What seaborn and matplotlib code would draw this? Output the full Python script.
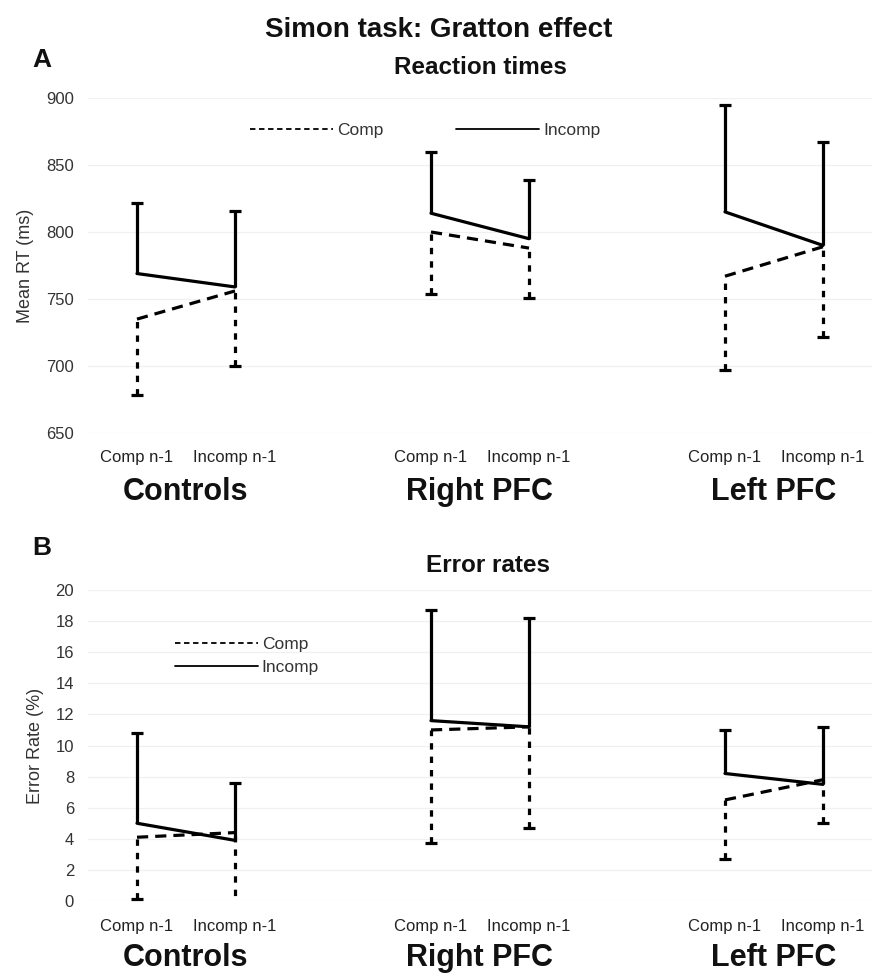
import numpy as np
import pandas as pd
import matplotlib
matplotlib.use("Agg")
import matplotlib.pyplot as plt
from matplotlib.lines import Line2D
from matplotlib import transforms
import seaborn as sns

# ---------------- data ----------------
groups = ["Controls", "Right PFC", "Left PFC"]
prev_trial = ["Comp n-1", "Incomp n-1"]
conditions = ["Comp", "Incomp"]

# Reaction times (ms): [Comp n-1, Incomp n-1] per group
rt_comp = [[735, 756], [800, 788], [767, 789]]
rt_incomp = [[769, 759], [814, 795], [815, 790]]
rt_comp_lower = [[678, 700], [754, 751], [697, 722]]     # end of downward error bar
rt_incomp_upper = [[822, 816], [860, 839], [895, 867]]   # end of upward error bar

# Error rates (%)
er_comp = [[4.1, 4.4], [11.0, 11.2], [6.5, 7.8]]
er_incomp = [[5.0, 3.9], [11.6, 11.2], [8.2, 7.5]]
er_comp_lower = [[0.15, -0.5], [3.7, 4.7], [2.7, 5.0]]
er_incomp_upper = [[10.8, 7.6], [18.7, 18.2], [11.0, 11.2]]

rt_ticks = [650, 700, 750, 800, 850, 900]
er_ticks = [0, 2, 4, 6, 8, 10, 12, 14, 16, 18, 20]

# ---------------- style ----------------
sns.set_theme(style="white")
plt.rcParams["font.family"] = ["Liberation Sans", "DejaVu Sans"]

fig = plt.figure(figsize=(8.74, 9.77), dpi=100)

def build_df(comp, incomp):
    rows = []
    for gi, g in enumerate(groups):
        for pi, p in enumerate(prev_trial):
            x = gi * 3 + pi
            rows.append(dict(group=g, prev=p, x=x, cond="Comp", value=comp[gi][pi]))
            rows.append(dict(group=g, prev=p, x=x, cond="Incomp", value=incomp[gi][pi]))
    return pd.DataFrame(rows)

LW = 2.3

def draw_panel(ax, comp, incomp, comp_low, inc_up, ylim, yticks, ylabel, pad_x, labelpad):
    df = build_df(comp, incomp)
    for gi in range(len(groups)):
        for pi in range(2):
            x = gi * 3 + pi
            c, i_ = comp[gi][pi], incomp[gi][pi]
            eb = ax.errorbar([x], [i_], yerr=[[0], [inc_up[gi][pi] - i_]],
                             fmt="none", ecolor="black", elinewidth=LW,
                             capsize=4, capthick=LW, zorder=3)
            eb[1][0].set_visible(False)   # no cap at the mean
            eb2 = ax.errorbar([x], [c], yerr=[[c - comp_low[gi][pi]], [0]],
                              fmt="none", ecolor="black", elinewidth=LW,
                              capsize=4, capthick=LW, zorder=3)
            eb2[1][1].set_visible(False)
            for lc in eb2[2]:
                lc.set_linestyle((0, (2.0, 2.2)))
    sns.lineplot(data=df, x="x", y="value", style="cond", units="group",
                 estimator=None, color="black", linewidth=LW,
                 dashes={"Comp": (3.5, 2.2), "Incomp": ""},
                 legend=False, ax=ax, zorder=4)
    ax.set_xlim(-0.5, 7.5)
    ax.set_ylim(*ylim)
    ax.set_yticks(yticks)
    ax.set_yticklabels([str(t) for t in yticks], fontsize=12, color="#333333")
    ax.set_xticks([0, 1, 3, 4, 6, 7])
    ax.set_xticklabels(prev_trial * 3, fontsize=12, color="#222222")
    ax.tick_params(axis="x", length=0, pad=pad_x)
    ax.tick_params(axis="y", length=0, pad=10)
    ax.set_xlabel("")
    ax.set_ylabel(ylabel, fontsize=13, color="#333333", labelpad=labelpad)
    ax.grid(axis="y", color="#f0f0f0", linewidth=0.9)
    ax.grid(axis="x", visible=False)
    for s in ax.spines.values():
        s.set_visible(False)
    ax.set_facecolor("white")
    return transforms.blended_transform_factory(ax.transData, ax.transAxes)

# top panel
ax1 = fig.add_axes([88 / 874, 1 - 433 / 977, 784 / 874, 335 / 977])
t1 = draw_panel(ax1, rt_comp, rt_incomp, rt_comp_lower, rt_incomp_upper,
                (650, 900), rt_ticks, "Mean RT (ms)", 12, 9)
for gi, g in enumerate(groups):
    ax1.text(gi * 3 + 0.5, -0.176, g, transform=t1, ha="center", va="center",
             fontsize=22, fontweight="bold", color="#111111")

# bottom panel
ax2 = fig.add_axes([88 / 874, 1 - 901 / 977, 784 / 874, 311 / 977])
t2 = draw_panel(ax2, er_comp, er_incomp, er_comp_lower, er_incomp_upper,
                (0, 20), er_ticks, "Error Rate (%)", 13, 8.5)
for gi, g in enumerate(groups):
    ax2.text(gi * 3 + 0.5, -0.183, g, transform=t2, ha="center", va="center",
             fontsize=22, fontweight="bold", color="#111111")

# legends
h_comp = Line2D([], [], color="black", linestyle=(0, (3, 2)), linewidth=1.3)
h_inc = Line2D([], [], color="black", linestyle="-", linewidth=1.3)
ax1.legend([h_comp, h_inc], conditions, ncol=2, frameon=False,
           loc="center left", bbox_to_anchor=((250 - 88) / 784, (433 - 130) / 335),
           borderpad=0, borderaxespad=0, handlelength=4.8, handletextpad=0.2,
           columnspacing=4.2, fontsize=12.5, labelcolor="#333333")
ax2.legend([h_comp, h_inc], conditions, ncol=1, frameon=False,
           loc="center left", bbox_to_anchor=((175 - 88) / 784, (901 - 656) / 311),
           borderpad=0, borderaxespad=0, handlelength=4.8, handletextpad=0.2,
           labelspacing=0.45, fontsize=12.5, labelcolor="#333333")

# titles
fig.text(439 / 874, 1 - 30 / 977, "Simon task: Gratton effect", ha="center", va="center",
         fontsize=20, fontweight="bold", color="#111111")
fig.text(42 / 874, 1 - 60 / 977, "A", ha="center", va="center",
         fontsize=19, fontweight="bold", color="#111111")
fig.text(480 / 874, 1 - 68 / 977, "Reaction times", ha="center", va="center",
         fontsize=17.5, fontweight="bold", color="#111111")
fig.text(42 / 874, 1 - 548 / 977, "B", ha="center", va="center",
         fontsize=19, fontweight="bold", color="#111111")
fig.text(488 / 874, 1 - 565 / 977, "Error rates", ha="center", va="center",
         fontsize=17.5, fontweight="bold", color="#111111")

fig.savefig("out.png", dpi=100, facecolor="white")
